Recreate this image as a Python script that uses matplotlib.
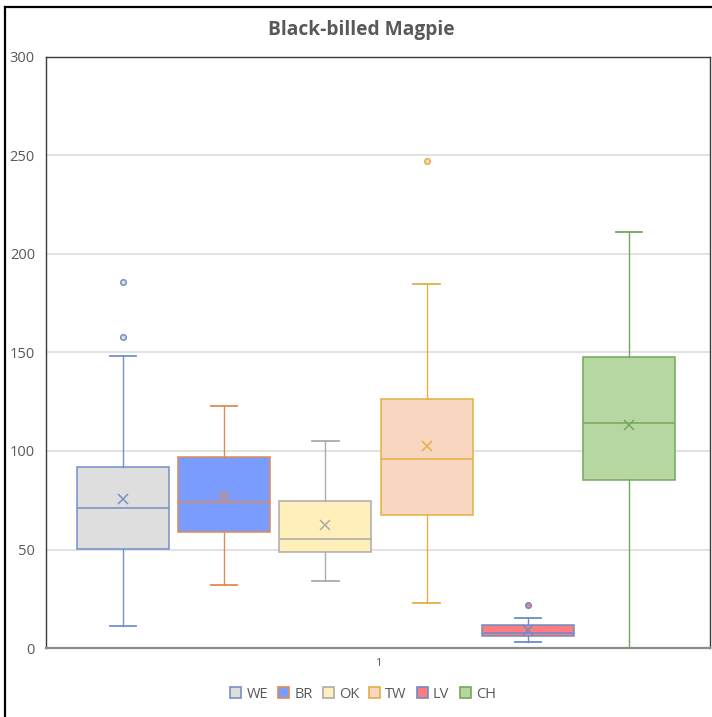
import matplotlib
matplotlib.use("Agg")
import matplotlib.pyplot as plt
from matplotlib.lines import Line2D
from matplotlib.patches import Patch

plt.rcParams['font.family'] = ['Open Sans', 'DejaVu Sans']

categories = ['WE', 'BR', 'OK', 'TW', 'LV', 'CH']
whislo = [11, 32, 34, 23, 3, 0]
q1 = [50.5, 59, 48.5, 67.5, 6, 85.5]
med = [71, 74, 55.5, 96, 7.5, 114]
q3 = [92, 97, 74.5, 126.5, 11.5, 147.5]
whishi = [148, 123, 105, 185, 15, 211]
means = [75.5, 77, 62.5, 102.5, 9, 113]
outliers = [[158, 186], [], [], [247], [22], []]
x_labels = ['1']
y_ticks = [0, 50, 100, 150, 200, 250, 300]

fills = ['#DEDEDE', '#7B9CFF', '#FFF0BB', '#F8D6C0', '#FF7B7F', '#B7D7A2']
edges = ['#7391C8', '#E08A55', '#ABABAB', '#E2B043', '#6A8EC8', '#74A85A']

fig = plt.figure(figsize=(7.12, 7.17), dpi=100)
ax = fig.add_axes([46/712, 1-648/717, (710-46)/712, (648-57)/717])

positions = list(range(len(categories)))
for i, cat in enumerate(categories):
    st = dict(label=cat, whislo=whislo[i], q1=q1[i], med=med[i], q3=q3[i],
              whishi=whishi[i], mean=means[i], fliers=outliers[i])
    ax.bxp([st], positions=[positions[i]], widths=0.91, capwidths=[0.26],
           showmeans=True, patch_artist=True, manage_ticks=False,
           boxprops=dict(facecolor=fills[i], edgecolor=edges[i], linewidth=1.1),
           medianprops=dict(color=edges[i], linewidth=1.1),
           whiskerprops=dict(color=edges[i], linewidth=1.0),
           capprops=dict(color=edges[i], linewidth=1.3),
           meanprops=dict(marker='x', markeredgecolor=edges[i], markersize=7,
                          markeredgewidth=1.1),
           flierprops=dict(marker='o', markerfacecolor=fills[i],
                           markeredgecolor=edges[i], markersize=4,
                           markeredgewidth=1.1))

ax.set_xlim(-0.761, 5.80)
ax.set_ylim(0, 300)
ax.set_yticks(y_ticks)
ax.set_yticklabels([str(v) for v in y_ticks])
ax.set_xticks([(-0.761 + 5.80) / 2])
ax.set_xticklabels(x_labels)
ax.tick_params(axis='both', length=0, labelsize=10.5, colors='#595959', pad=8)
ax.tick_params(axis='x', labelsize=8, pad=7)
ax.yaxis.grid(True, color='#DDDDDD', linewidth=1.2)
ax.set_axisbelow(True)
for s in ['top', 'right', 'left']:
    ax.spines[s].set_color('#3A3A3A')
    ax.spines[s].set_linewidth(1.0)
ax.spines['bottom'].set_color('#8C8C8C')
ax.spines['bottom'].set_linewidth(1.6)

fig.text(361/712, 1-30/717, 'Black-billed Magpie', ha='center', va='center',
         fontsize=13.8, fontweight='bold', color='#595959')

handles = [Patch(facecolor=fills[i], edgecolor=edges[i], linewidth=1.2, label=c)
           for i, c in enumerate(categories)]
fig.legend(handles=handles, loc='center', bbox_to_anchor=(363/712, 1-694/717),
           ncol=6, frameon=False, fontsize=10.5, handlelength=0.75, handleheight=0.75,
           handletextpad=0.35, columnspacing=0.7, labelcolor='#595959')

fig.add_artist(Line2D([5/712, 5/712], [0, 1-7/717], color='black', linewidth=1.6,
                      transform=fig.transFigure))
fig.add_artist(Line2D([5/712, 1], [1-7/717, 1-7/717], color='black', linewidth=1.6,
                      transform=fig.transFigure))

fig.savefig('out.png', dpi=100)
